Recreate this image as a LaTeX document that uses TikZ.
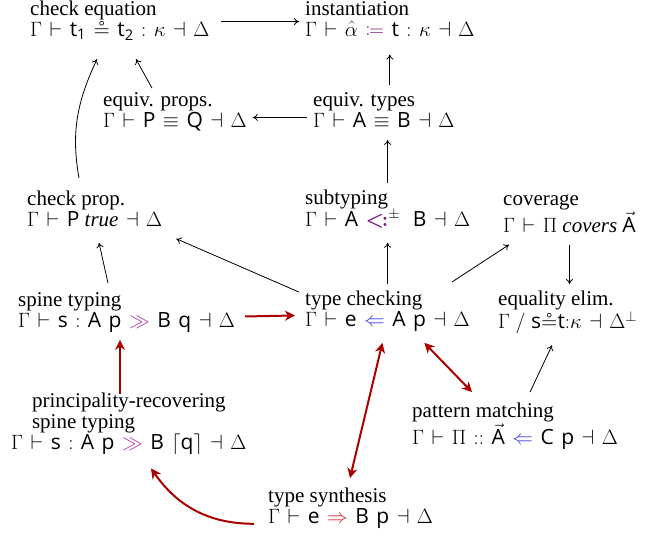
\documentclass[tikz,border=0pt]{standalone}
\usepackage{amssymb}
\usepackage{mathtools}
\usepackage{fontspec}
\setmainfont{Liberation Serif}
\setsansfont{Open Sans}
\usetikzlibrary{arrows.meta,calc}
\definecolor{arrred}{RGB}{170,0,0}
\definecolor{chkblue}{RGB}{60,60,225}
\definecolor{synred}{RGB}{210,40,40}
\definecolor{ggpurp}{RGB}{175,60,175}
\definecolor{subpurp}{RGB}{125,20,125}
\newcommand\jlbl[2]{\begin{tabular}[t]{@{}l@{}}#1\\$#2$\end{tabular}}
\newcommand\sfm[1]{\mathsf{#1}}
\thickmuskip=6.5mu plus 3mu
\medmuskip=5mu plus 2mu
\begin{document}
\begin{tikzpicture}[x=1pt,y=-1pt,
  jn/.style={anchor=base west, inner sep=6pt, font=\fontsize{21}{21}\selectfont},
  blk/.style={-{To[length=5pt,width=7pt]}, line width=0.8pt},
  redar/.style={-{Stealth[length=10pt,width=10pt,inset=3pt]}, line width=2pt, draw=arrred},
  redboth/.style={{Stealth[length=10pt,width=10pt,inset=3pt]}-{Stealth[length=10pt,width=10pt,inset=3pt]}, line width=2pt, draw=arrred}]
\useasboundingbox (0,0) rectangle (660,538);

\node[jn] (ceq) at (24,15) {\jlbl{check equation}{\Gamma \vdash \sfm{t}_{\sfm{1}} \circeq \sfm{t}_{\sfm{2}} : \kappa \dashv \Delta}};
\node[jn] (inst) at (299,15) {\jlbl{instantiation}{\Gamma \vdash \hat{\alpha} \mathrel{\textcolor{subpurp}{\coloneqq}} \sfm{t} : \kappa \dashv \Delta}};
\node[jn] (eqp) at (97,106) {\jlbl{equiv. props.}{\Gamma \vdash \sfm{P} \equiv \sfm{Q} \dashv \Delta}};
\node[jn] (eqt) at (307,106) {\jlbl{equiv. types}{\Gamma \vdash \sfm{A} \equiv \sfm{B} \dashv \Delta}};
\node[jn] (cpr) at (21,205) {\jlbl{check prop.}{\Gamma \vdash \sfm{P}\ \textit{true} \dashv \Delta}};
\node[jn] (sub) at (299,204) {\jlbl{subtyping}{\Gamma \vdash \sfm{A} \mathrel{\textcolor{subpurp}{\boldsymbol{<}\mkern-2mu\boldsymbol{:}}^{\pm}}\ \sfm{B} \dashv \Delta}};
\node[jn] (cov) at (497,205) {\jlbl{coverage}{\Gamma \vdash \Pi\ \textit{covers}\ \vec{\sfm{A}}}};
\node[jn] (spn) at (12,306) {\jlbl{spine typing}{\Gamma \vdash \sfm{s} : \sfm{A}\;\sfm{p} \mathrel{\textcolor{ggpurp}{\gg}} \sfm{B}\;\sfm{q} \dashv \Delta}};
\node[jn] (tc) at (299,305) {\jlbl{type checking}{\Gamma \vdash \sfm{e} \mathrel{\textcolor{chkblue}{\Leftarrow}} \sfm{A}\;\sfm{p} \dashv \Delta}};
\node[jn] (eqe) at (492,305) {\jlbl{equality elim.}{\Gamma \mathbin{/} \sfm{s}{\circeq}\sfm{t}{:}\kappa \dashv \Delta^{\bot}}};
\node[jn] (prc) at (5,407) {\begin{tabular}[t]{@{}c@{}}\begin{tabular}[t]{@{}l@{}}principality-recovering\\spine typing\end{tabular}\\$\Gamma \vdash \sfm{s} : \sfm{A}\;\sfm{p} \mathrel{\textcolor{ggpurp}{\gg}} \sfm{B}\;\lceil \sfm{q} \rceil \dashv \Delta$\end{tabular}};
\node[jn] (pm) at (406,417) {\jlbl{pattern matching}{\Gamma \vdash \Pi \mathrel{::} \vec{\sfm{A}} \mathrel{\textcolor{chkblue}{\Leftarrow}} \sfm{C}\;\sfm{p} \dashv \Delta}};
\node[jn] (ts) at (262,502) {\jlbl{type synthesis}{\Gamma \vdash \sfm{e} \mathrel{\textcolor{synred}{\Rightarrow}} \sfm{B}\;\sfm{p} \dashv \Delta}};
\coordinate (sx) at ($(spn.south west)+(108,0)$);

% black arrows
\draw[blk] ($(ceq.east)+(6,0)$) -- (inst.west |- ceq.east);
\draw[blk] (eqt.north -| inst.south) -- ($(inst.south)+(0,6)$);
\draw[blk] ($(eqt.west)+(0,5)$) -- ($(eqt.west -| eqp.east)+(0,5)$);
\draw[blk] ($(eqp.north west)+(55,3)$) -- ($(ceq.south west)+(112,10)$);
\draw[blk] ($(cpr.north west)+(58,-6)$) to[out=100,in=245] ($(ceq.south west)+(73,10)$);
\draw[blk] (sub.north) -- (eqt.south -| sub.north);
\draw[blk] ($(spn.north west)+(96,-2)$) -- ($(cpr.south west)+(78,4)$);
\draw[blk] ($(tc.north west)+(0,8)$) -- ($(cpr.south east)+(8,0)$);
\draw[blk] (tc.north) -- ($(sub.south)+(0,4)$);
\draw[blk] ($(tc.north east)+(-24,-2)$) -- ($(cov.south west)+(12,0)$);
\draw[blk] (cov.south) -- (cov.south |- eqe.north);
\draw[blk] ($(pm.north west)+(124,-4)$) -- ($(eqe.south west)+(60,4)$);

% red arrows
\draw[redar] ($(spn.east)+(4,4)$) -- ($(tc.west)+(-4,4)$);
\draw[redar] ($(prc.north -| sx)+(0,8)$) -- (sx);
\draw[redboth] ($(tc.south)+(37,4)$) -- ($(pm.north west)+(66,-4)$);
\draw[redboth] ($(tc.south)+(-5,4)$) -- ($(ts.north west)+(88,-3)$);
\draw[redar] ($(ts.south west)+(-8,-12)$) to[out=180,in=-55] ($(prc.south west)+(146,6)$);
\end{tikzpicture}
\end{document}
